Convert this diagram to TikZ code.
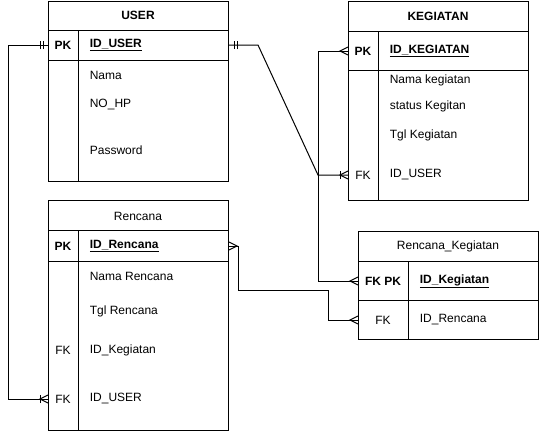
\documentclass[tikz,border=0pt]{standalone}
\usepackage{fontspec}
\setmainfont{Liberation Sans}
\usetikzlibrary{calc}
\def\many(#1)(#2){\draw ($(#1)+(0,4)$) -- ($(#1)+(#2*8,0)$) -- ($(#1)+(0,-4)$);}
\def\erbar(#1)(#2){\draw ($(#1)+(#2,4)$) -- ($(#1)+(#2,-4)$);}
\tikzset{
	tbl/.style={draw, inner sep=0pt, anchor=north west},
	hd/.style={font=\fontsize{12}{14}\selectfont\bfseries},
	fld/.style={anchor=west}
}

\begin{document}
\begin{tikzpicture}[x=1pt, y=-1pt, line width=1pt, every node/.style={font=\fontsize{12}{14}\selectfont}]
		\useasboundingbox (0,0) rectangle (539,431);
		%%%%% USER %%%%%
		\node[tbl, minimum width=180pt, minimum height=180pt] (user) at (48,1) {};
		\draw (48,30) -- (228,30);
		\draw (48,60) -- (228,60);
		\draw (78,30) -- (78,181);
		\node[hd] (user-title) at (138,15.5) {USER};
		\node[hd] (upk) at (63,45) {PK};
		\node[fld,hd] (user-id) at (86,45) {\underline{ID\_USER}};
		\node[fld] (user-nama) at (86,75) {Nama};
		\node[fld] (user-hp) at (86,105) {NO\_HP};
		\node[fld] (user-pass) at (86,150) {Password};
		
		%%%%% KEGIATAN %%%%%
		\node[tbl, minimum width=180pt, minimum height=199pt] (kegiatan) at (348,1) {};
		\draw (348,31) -- (528,31);
		\draw (348,70) -- (528,70);
		\draw (378,31) -- (378,200);
		\node[hd] (keg-title) at (438,16) {KEGIATAN};
		\node[hd] (kpk) at (363,51) {PK};
		\node[fld,hd] (keg-id) at (386,51) {\underline{ID\_KEGIATAN}};
		\node[fld] (keg-nama) at (386,80) {Nama kegiatan};
		\node[fld] (keg-status) at (386,106) {status Kegitan};
		\node[fld] (keg-tgl) at (386,135) {Tgl Kegiatan};
		\node (kfk) at (363,175) {FK};
		\node[fld] (keg-user) at (386,175) {ID\_USER};
		
		%%%%% Rencana %%%%%
		\node[tbl, minimum width=180pt, minimum height=230pt] (rencana) at (48,200) {};
		\draw (48,230) -- (228,230);
		\draw (48,261) -- (228,261);
		\draw (78,230) -- (78,430);
		\node (ren-title) at (138,216) {Rencana};
		\node[hd] (rpk) at (63,246) {PK};
		\node[fld,hd] (ren-id) at (86,246) {\underline{ID\_Rencana}};
		\node[fld] (ren-nama) at (86,276) {Nama Rencana};
		\node[fld] (ren-tgl) at (86,311) {Tgl Rencana};
		\node (rfk) at (63,350) {FK};
		\node[fld] (ren-keg) at (86,350) {ID\_Kegiatan};
		\node (rfu) at (63,399) {FK};
		\node[fld] (ren-user) at (86,399) {ID\_USER};
		
		%%%%% Rencana_Kegiatan %%%%%
		\node[tbl, minimum width=180pt, minimum height=108pt] (rk) at (358,231) {};
		\draw (358,261) -- (538,261);
		\draw (358,300) -- (538,300);
		\draw (408,261) -- (408,339);
		\node (rk-title) at (448,246) {Rencana\_Kegiatan};
		\node[hd] (rkpk) at (383,281) {FK PK};
		\node[fld,hd] (rk-keg) at (416,281) {\underline{ID\_Kegiatan}};
		\node (rkfk) at (383,320) {FK};
		\node[fld] (rk-ren) at (416,320) {ID\_Rencana};
		
		%%%%% RELASI %%%%%
		\draw (user.west|-upk) -- ++(-40,0) |- (rencana.west|-rfu);
		\erbar(user.west|-upk)(-5) \erbar(user.west|-upk)(-8)
		\many(rencana.west|-rfu)(-1) \erbar(rencana.west|-rfu)(-8)
		
		\draw (user.east|-upk) -- ++(29,0) -- ($(kegiatan.west|-kfk)+(-30,0)$) -- (kegiatan.west|-kfk);
		\erbar(user.east|-upk)(5) \erbar(user.east|-upk)(8)
		\many(kegiatan.west|-kfk)(-1) \erbar(kegiatan.west|-kfk)(-8)
		
		\draw (kegiatan.west|-kpk) -- ++(-30,0) |- (rk.west|-rkpk);
		\many(kegiatan.west|-kpk)(-1)
		\many(rk.west|-rkpk)(-1)
		
		\draw (rencana.east|-rpk) -- ++(9,0) -- ++(0,44) -| ($(rk.west|-rkfk)+(-30,0)$) -- (rk.west|-rkfk);
		\many(rencana.east|-rpk)(1)
		\many(rk.west|-rkfk)(-1)
	\end{tikzpicture}
\end{document}
